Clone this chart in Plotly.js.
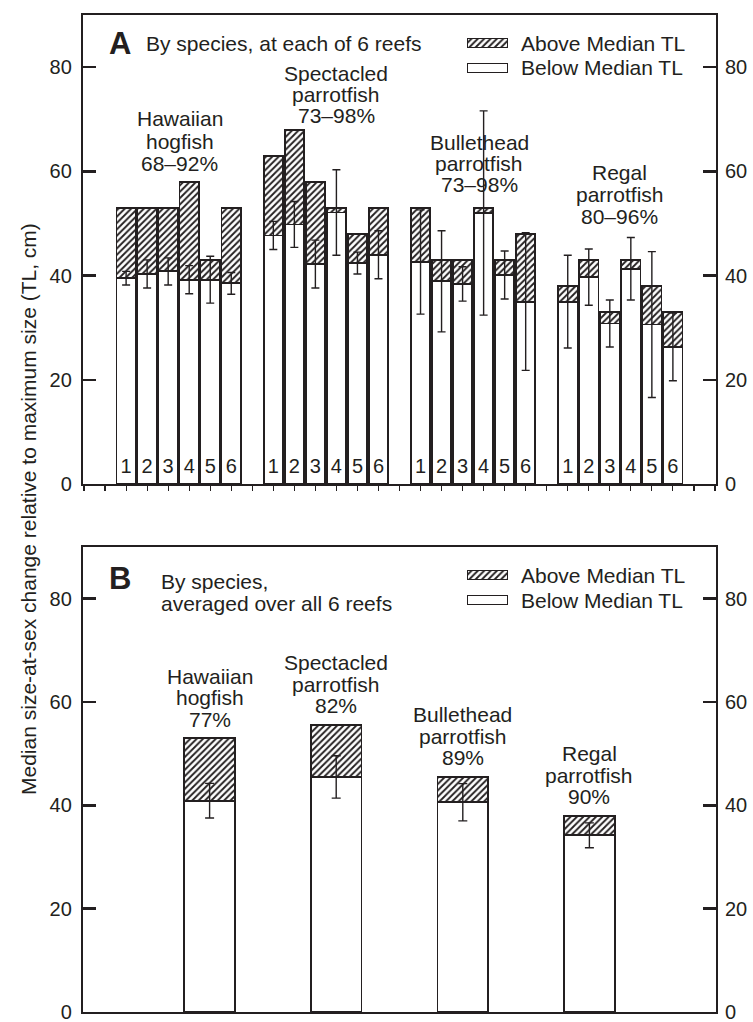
<!DOCTYPE html>
<html><head><meta charset="utf-8">
<script src="https://cdn.plot.ly/plotly-3.0.1.min.js"></script>
<style>html,body{margin:0;padding:0;background:#fff;} #chart{width:753px;height:1022px;}</style>
</head><body><div id="chart"></div>
<script>
// ---------- data ----------
const reefs = ['1','2','3','4','5','6'];
const speciesLine1 = ['Hawaiian','Spectacled','Bullethead','Regal'];
const speciesLine2 = ['hogfish','parrotfish','parrotfish','parrotfish'];
const rangeA = ['68–92%','73–98%','73–98%','80–96%'];
const pctB = ['77%','82%','89%','90%'];
// Panel A: median TL at sex change (below part), top of bar (max size), error half-width
const belowA = [
  [39.5, 40.3, 40.8, 39.2, 39.2, 38.5],
  [47.7, 49.8, 42.2, 52.1, 42.4, 44.0],
  [42.6, 38.9, 38.4, 52.0, 40.1, 35.0],
  [35.0, 39.7, 30.8, 41.3, 30.6, 26.3]
];
const topA = [
  [53, 53, 53, 58, 43, 53],
  [63, 68, 58, 53, 48, 53],
  [53, 43, 43, 53, 43, 48],
  [38, 43, 33, 43, 38, 33]
];
const errA = [
  [1.3, 2.7, 2.6, 2.7, 4.5, 2.1],
  [2.7, 4.4, 4.6, 8.2, 2.1, 4.6],
  [10.0, 9.7, 3.3, 19.6, 4.6, 13.2],
  [8.9, 5.4, 4.5, 6.0, 14.0, 6.5]
];
// Panel B: averaged over all reefs
const belowB = [40.9, 45.5, 40.6, 34.2];
const topB = [53.0, 55.6, 45.5, 38.0];
const errB = [3.35, 4.1, 3.6, 2.4];
const legendNames = ['Above Median TL', 'Below Median TL'];
const tickVals = [0, 20, 40, 60, 80];
const yTitle = 'Median size-at-sex change relative to maximum size (TL, cm)';

// ---------- layout helpers ----------
const ink = '#231f20';
const FONT = 'Liberation Sans, Arial, Helvetica, sans-serif';
const W = 753, H = 1022, L = 83, R = 716, T = 15, B = 1012;
const pxX = p => (p - L) / (R - L);
const pxY = p => (B - p) / (B - T);
const hatch = {shape: '/', fgcolor: ink, bgcolor: 'white', size: 4.5, solidity: 0.42};
const outline = {color: ink, width: 1.8};

// positions: 6 reefs per species, one empty slot between species
const xA = [], yBelowA = [], yAboveA = [], eA = [], txtA = [];
belowA.forEach((row, g) => row.forEach((v, i) => {
  xA.push(g * 7 + i);
  yBelowA.push(v);
  yAboveA.push(+(topA[g][i] - v).toFixed(2));
  eA.push(errA[g][i]);
  txtA.push(reefs[i]);
}));
const xB = belowB.map((v, i) => i + 1);
const yAboveB = topB.map((t, i) => +(t - belowB[i]).toFixed(2));

const traces = [
  {type: 'bar', x: xA, y: yBelowA, xaxis: 'x', yaxis: 'y', width: 0.92,
   marker: {color: 'white', line: outline}, name: legendNames[1], showlegend: false, hoverinfo: 'skip'},
  {type: 'bar', x: xA, y: yAboveA, xaxis: 'x', yaxis: 'y', width: 0.92,
   marker: {color: 'white', pattern: hatch, line: outline}, name: legendNames[0], showlegend: false, hoverinfo: 'skip'},
  {type: 'scatter', mode: 'markers', x: xA, y: yBelowA, xaxis: 'x', yaxis: 'y',
   marker: {size: 1, color: 'rgba(0,0,0,0)'}, showlegend: false, hoverinfo: 'skip',
   error_y: {type: 'data', array: eA, visible: true, color: ink, thickness: 1.4, width: 4}},
  {type: 'scatter', mode: 'text', x: xA, y: xA.map(() => 3), text: txtA, xaxis: 'x', yaxis: 'y3',
   textfont: {family: FONT, size: 20, color: ink}, textposition: 'middle center', showlegend: false, hoverinfo: 'skip'},
  {type: 'bar', x: xB, y: belowB, xaxis: 'x2', yaxis: 'y2', width: 0.4,
   marker: {color: 'white', line: outline}, name: legendNames[1], showlegend: false, hoverinfo: 'skip'},
  {type: 'bar', x: xB, y: yAboveB, xaxis: 'x2', yaxis: 'y2', width: 0.4,
   marker: {color: 'white', pattern: hatch, line: outline}, name: legendNames[0], showlegend: false, hoverinfo: 'skip'},
  {type: 'scatter', mode: 'markers', x: xB, y: belowB, xaxis: 'x2', yaxis: 'y4',
   marker: {size: 1, color: 'rgba(0,0,0,0)'}, showlegend: false, hoverinfo: 'skip',
   error_y: {type: 'data', array: errB, visible: true, color: ink, thickness: 1.4, width: 4.5}},
  // legend swatches (panel A and B)
  {type: 'bar', orientation: 'h', x: [1, 1], y: [1, 0], xaxis: 'x5', yaxis: 'y5', width: 0.36,
   marker: {color: 'white', pattern: {shape: ['/', ''], fgcolor: ink, bgcolor: 'white', size: 4.5, solidity: 0.42}, line: {color: ink, width: 1.4}},
   showlegend: false, hoverinfo: 'skip'},
  {type: 'bar', orientation: 'h', x: [1, 1], y: [1, 0], xaxis: 'x6', yaxis: 'y6', width: 0.36,
   marker: {color: 'white', pattern: {shape: ['/', ''], fgcolor: ink, bgcolor: 'white', size: 4.5, solidity: 0.42}, line: {color: ink, width: 1.4}},
   showlegend: false, hoverinfo: 'skip'}
];

const yBase = {range: [0, 90], tickvals: tickVals, ticks: 'inside', ticklen: 13, tickwidth: 2.4, tickcolor: ink,
  tickfont: {family: FONT, size: 20, color: ink}, showgrid: false, zeroline: false, fixedrange: true,
  ticklabeloverflow: 'allow'};
const hidden = {visible: false, fixedrange: true, showgrid: false, zeroline: false};

const annotations = [];
const ann = (o) => annotations.push(Object.assign({showarrow: false, font: {family: FONT, size: 21, color: ink}}, o));

// panel letters and headings
ann({text: 'A', xref: 'paper', yref: 'paper', x: pxX(120), y: pxY(43), xanchor: 'center', yanchor: 'middle', font: {family: FONT, size: 31, color: ink, weight: 700}});
ann({text: 'By species, at each of 6 reefs', xref: 'paper', yref: 'paper', x: pxX(144), y: pxY(43), xanchor: 'left', yanchor: 'middle'});
ann({text: 'B', xref: 'paper', yref: 'paper', x: pxX(120), y: pxY(578), xanchor: 'center', yanchor: 'middle', font: {family: FONT, size: 31, color: ink, weight: 700}});
ann({text: 'By species,', xref: 'paper', yref: 'paper', x: pxX(159), y: pxY(581), xanchor: 'left', yanchor: 'middle'});
ann({text: 'averaged over all 6 reefs', xref: 'paper', yref: 'paper', x: pxX(159), y: pxY(603), xanchor: 'left', yanchor: 'middle'});
// legend texts
[[43, 68], [575, 600]].forEach(ys => {
  ann({text: legendNames[0], xref: 'paper', yref: 'paper', x: pxX(519), y: pxY(ys[0]), xanchor: 'left', yanchor: 'middle'});
  ann({text: legendNames[1], xref: 'paper', yref: 'paper', x: pxX(519), y: pxY(ys[1]), xanchor: 'left', yanchor: 'middle'});
});
// panel A species labels (x in slot units, y px of three line centres)
const labA = [[2.55, [119, 141, 163]], [10.0, [73, 94.5, 116]], [16.8, [142, 163.5, 185]], [23.47, [173, 194.5, 216]]];
labA.forEach((p, g) => {
  [speciesLine1[g], speciesLine2[g], rangeA[g]].forEach((t, k) => {
    ann({text: t, xref: 'x', yref: 'paper', x: p[0], y: pxY(p[1][k]), xanchor: 'center', yanchor: 'middle'});
  });
});
// panel B species labels above each bar
xB.forEach((x, g) => {
  [speciesLine1[g], speciesLine2[g], pctB[g]].forEach((t, k) => {
    ann({text: t, xref: 'x2', yref: 'y2', x: x, y: topB[g], yshift: [62, 40.5, 19][k], xanchor: 'center', yanchor: 'middle'});
  });
});
// y-axis title spanning both panels
ann({text: yTitle, xref: 'paper', yref: 'paper', x: pxX(28), y: pxY(509), xanchor: 'center', yanchor: 'middle', textangle: -90,
     font: {family: FONT, size: 21, color: ink}});

const layout = {
  width: W, height: H,
  margin: {l: L, r: W - R, t: T, b: H - B, pad: 0},
  paper_bgcolor: 'white', plot_bgcolor: 'rgba(0,0,0,0)',
  barmode: 'stack', showlegend: false,
  font: {family: FONT, color: ink},
  xaxis: {domain: [0, 1], anchor: 'y', range: [-2.05, 28.05], tickvals: Array.from({length: 31}, (_, i) => i - 2),
    ticks: 'outside', ticklen: 5, tickwidth: 1.2, tickcolor: ink, showticklabels: false,
    showline: true, linecolor: ink, linewidth: 2.2, mirror: true, showgrid: false, zeroline: false, fixedrange: true},
  yaxis: Object.assign({}, yBase, {domain: [pxY(484), 1], anchor: 'x', side: 'left', showline: true, linecolor: ink, linewidth: 2.2, mirror: true, ticklabelstandoff: 5}),
  yaxis3: Object.assign({}, yBase, {overlaying: 'y', anchor: 'x', side: 'right', showline: false, ticklabelstandoff: 8}),
  xaxis2: {domain: [0, 1], anchor: 'y2', range: [0, 5], ticks: '', showticklabels: false,
    showline: true, linecolor: ink, linewidth: 2.2, mirror: true, showgrid: false, zeroline: false, fixedrange: true},
  yaxis2: Object.assign({}, yBase, {domain: [0, pxY(547)], anchor: 'x2', side: 'left', showline: true, linecolor: ink, linewidth: 2.2, mirror: true, ticklabelstandoff: 5}),
  yaxis4: Object.assign({}, yBase, {overlaying: 'y2', anchor: 'x2', side: 'right', showline: false, ticklabelstandoff: 8}),
  xaxis5: Object.assign({}, hidden, {domain: [pxX(467), pxX(508)], anchor: 'y5', range: [0, 1]}),
  yaxis5: Object.assign({}, hidden, {domain: [pxY(80.5), pxY(30.5)], anchor: 'x5', range: [-0.5, 1.5]}),
  xaxis6: Object.assign({}, hidden, {domain: [pxX(467), pxX(508)], anchor: 'y6', range: [0, 1]}),
  yaxis6: Object.assign({}, hidden, {domain: [pxY(612.5), pxY(562.5)], anchor: 'x6', range: [-0.5, 1.5]}),
  annotations: annotations
};

Plotly.newPlot('chart', traces, layout, {staticPlot: true, displayModeBar: false});
</script>
</body></html>
